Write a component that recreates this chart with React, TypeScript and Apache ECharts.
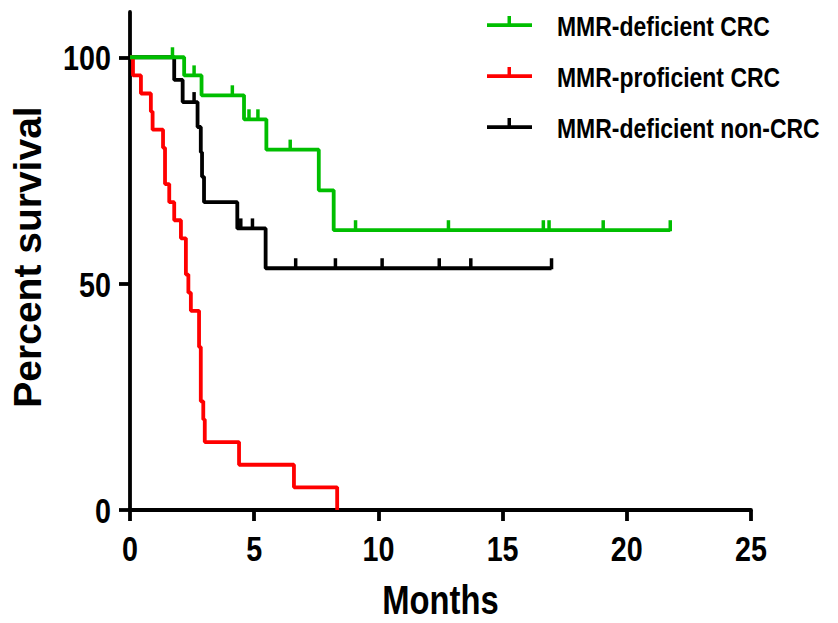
import React, { useEffect, useRef } from 'react';
import * as echarts from 'echarts';

// ---- data ----
const seriesNames = ['MMR-deficient CRC', 'MMR-proficient CRC', 'MMR-deficient non-CRC'];
const seriesColors = ['#00BE00', '#FF0000', '#000000'];

const greenT = [0, 2.18, 2.88, 4.59, 5.49, 7.6, 8.2, 21.75];
const greenS = [100, 96, 91.6, 86.3, 79.6, 70.6, 61.8, 61.8];
const greenCensor = [1.71, 2.58, 4.12, 4.79, 5.15, 6.45, 9.08, 12.82, 16.64, 16.87, 19.05, 21.75];

const redT = [0, 0.12, 0.44, 0.84, 0.91, 1.33, 1.41, 1.58, 1.78, 2.05, 2.25, 2.35, 2.45, 2.78, 2.85, 2.95, 3.01, 4.39, 6.6, 8.34];
const redS = [100, 96, 92, 88, 84, 80, 72, 68, 64, 60, 52, 48, 44, 36, 24, 20, 15, 10, 5, 0];
const redCensor: number[] = [];

const blackT = [0, 1.78, 2.12, 2.72, 2.85, 2.9, 2.98, 4.32, 5.46, 16.97];
const blackS = [100, 95, 90.1, 84.6, 79, 73.6, 68, 62.2, 53.4, 53.4];
const blackCensor = [2.58, 4.46, 4.93, 6.67, 8.27, 10.15, 12.45, 13.72, 16.97];

const xTickValues = [0, 5, 10, 15, 20, 25];
const yTickValues = [0, 50, 100];
const xTitle = 'Months';
const yTitle = 'Percent survival';

const sans = "'Liberation Sans', Arial, sans-serif";
const NARROW = 0.82; // the reference's horizontal text is condensed

function pairs(t: number[], s: number[]) {
  return t.map((v, i) => [v, s[i]]);
}
function valueAt(t: number[], s: number[], x: number) {
  let v = s[0];
  for (let i = 0; i < t.length; i++) if (t[i] <= x) v = s[i];
  return v;
}
function censorData(c: number[], t: number[], s: number[]) {
  return c.map((x) => [x, valueAt(t, s, x)]);
}

export default function App() {
  const ref = useRef<HTMLDivElement>(null);
  useEffect(() => {
    if (!ref.current) return;
    const chart = echarts.init(ref.current, null, { renderer: 'svg' });
    const groups = [
      { t: greenT, s: greenS, c: greenCensor },
      { t: redT, s: redS, c: redCensor },
      { t: blackT, s: blackS, c: blackCensor },
    ];
    const order = [2, 1, 0];
    const series: any[] = [];
    order.forEach((gi) => {
      const g = groups[gi];
      series.push({
        name: seriesNames[gi],
        type: 'line',
        step: 'end',
        symbol: 'none',
        data: pairs(g.t, g.s),
        lineStyle: { color: seriesColors[gi], width: 3.8 },
        itemStyle: { color: seriesColors[gi] },
        z: 2 + (2 - gi),
      });
    });
    order.forEach((gi) => {
      const g = groups[gi];
      const color = seriesColors[gi];
      series.push({
        name: seriesNames[gi] + ' censored',
        type: 'custom',
        coordinateSystem: 'cartesian2d',
        data: censorData(g.c, g.t, g.s),
        z: 2 + (2 - gi),
        renderItem: (params: any, api: any) => {
          const p = api.coord([api.value(0), api.value(1)]);
          return {
            type: 'line',
            shape: { x1: p[0], y1: p[1] + 1, x2: p[0], y2: p[1] - 10 },
            style: { stroke: color, lineWidth: 3.5 },
          };
        },
      });
    });

    chart.setOption({
      animation: false,
      backgroundColor: '#fff',
      grid: { left: 129, right: 87, top: 12, bottom: 113, containLabel: false },
      xAxis: {
        type: 'value',
        min: 0,
        max: 25,
        interval: 5,
        axisLine: { show: true, lineStyle: { color: '#000', width: 3.8 } },
        axisTick: { show: true, length: 11, lineStyle: { color: '#000', width: 3.8 }, customValues: xTickValues },
        axisLabel: { show: false },
        splitLine: { show: false },
      },
      yAxis: {
        type: 'value',
        min: 0,
        max: 110,
        axisLine: { show: true, lineStyle: { color: '#000', width: 3.8 } },
        axisTick: { show: true, length: 11, lineStyle: { color: '#000', width: 3.8 }, customValues: yTickValues },
        axisLabel: { show: false },
        splitLine: { show: false },
        name: yTitle,
        nameLocation: 'middle',
        nameGap: 83,
        nameTextStyle: { fontSize: 39, fontWeight: 'bold', fontFamily: sans, color: '#000', padding: [0, 0, 0, 8] },
      },
      series,
    });

    // condensed texts (tick labels, x title, legend) placed via the axis scales
    const graphics: any[] = [];
    const font = (size: number) => `bold ${size}px ${sans}`;
    xTickValues.forEach((v) => {
      const p = chart.convertToPixel({ gridIndex: 0 }, [v, 0]) as number[];
      graphics.push({
        type: 'text',
        x: p[0],
        y: p[1] + 39,
        scaleX: NARROW,
        style: { text: String(v), font: font(35), fill: '#000', textAlign: 'center', textVerticalAlign: 'middle' },
      });
    });
    yTickValues.forEach((v) => {
      const p = chart.convertToPixel({ gridIndex: 0 }, [0, v]) as number[];
      graphics.push({
        type: 'text',
        x: p[0] - 19,
        y: p[1] + 1,
        scaleX: NARROW,
        style: { text: String(v), font: font(35), fill: '#000', textAlign: 'right', textVerticalAlign: 'middle' },
      });
    });
    const c0 = chart.convertToPixel({ gridIndex: 0 }, [0, 0]) as number[];
    const c1 = chart.convertToPixel({ gridIndex: 0 }, [25, 0]) as number[];
    graphics.push({
      type: 'text',
      x: (c0[0] + c1[0]) / 2,
      y: c0[1] + 90,
      scaleX: NARROW,
      style: { text: xTitle, font: font(40), fill: '#000', textAlign: 'center', textVerticalAlign: 'middle' },
    });
    // legend
    const legendLeft = 487;
    const legendTop = 25;
    const legendStep = 51;
    seriesNames.forEach((name, i) => {
      const y = legendTop + i * legendStep;
      graphics.push({
        type: 'group',
        children: [
          { type: 'rect', shape: { x: legendLeft, y: y - 1.8, width: 45, height: 3.8 }, style: { fill: seriesColors[i] } },
          { type: 'rect', shape: { x: legendLeft + 20.5, y: y - 9, width: 3.5, height: 8 }, style: { fill: seriesColors[i] } },
          {
            type: 'text',
            x: legendLeft + 70,
            y: y + 1.5,
            scaleX: NARROW,
            style: { text: name, font: font(28), fill: '#000', textAlign: 'left', textVerticalAlign: 'middle' },
          },
        ],
      });
    });
    chart.setOption({ graphic: graphics });
    return () => chart.dispose();
  }, []);
  return (
    <div
      ref={ref}
      style={{ position: 'fixed', left: 0, top: 0, width: 838, height: 623, background: '#fff' }}
    />
  );
}
